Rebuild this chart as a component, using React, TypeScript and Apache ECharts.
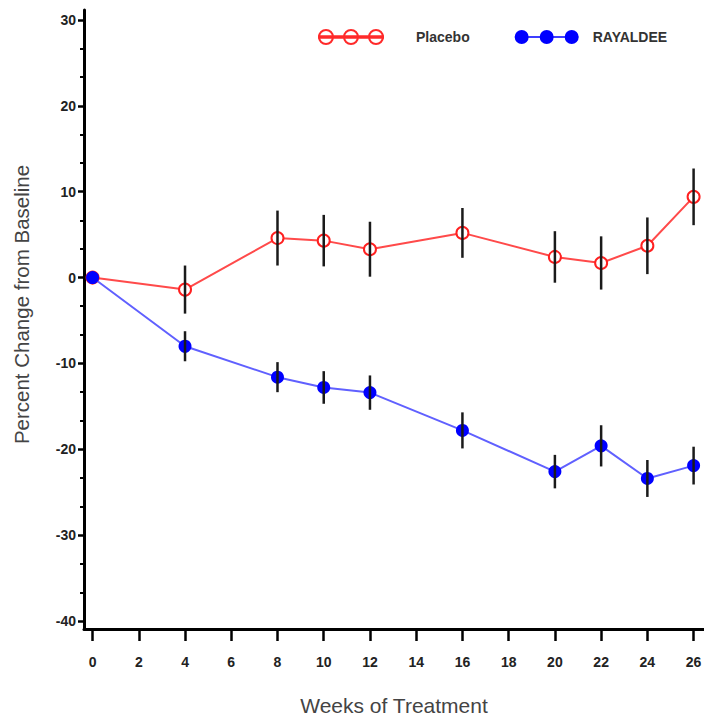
import React, { useEffect, useRef } from "react";
import * as echarts from "echarts";

const weeks = [0, 4, 8, 10, 12, 16, 20, 22, 24, 26];
const placeboMean = [0, -1.4, 4.6, 4.3, 3.3, 5.2, 2.4, 1.7, 3.7, 9.4];
const placeboSE = [0, 2.8, 3.2, 3.0, 3.2, 2.9, 3.0, 3.1, 3.3, 3.3];
const rayaldeeMean = [0, -8.0, -11.6, -12.8, -13.4, -17.8, -22.6, -19.6, -23.4, -21.9];
const rayaldeeSE = [0, 1.75, 1.75, 1.9, 2.0, 2.1, 1.95, 2.4, 2.15, 2.2];
const xTicks = [0, 2, 4, 6, 8, 10, 12, 14, 16, 18, 20, 22, 24, 26];
const yTicks = [-40, -30, -20, -10, 0, 10, 20, 30];
const yMinorTicks = [-36.667, -33.333, -26.667, -23.333, -16.667, -13.333, -6.667, -3.333, 3.333, 6.667, 13.333, 16.667, 23.333, 26.667];

const LEGEND_ICON =
  "path://M0,6.25 L64,6.25 L64,7.75 L0,7.75 Z M0,7 A7,7 0 1,1 14,7 A7,7 0 1,1 0,7 Z M25,7 A7,7 0 1,1 39,7 A7,7 0 1,1 25,7 Z M50,7 A7,7 0 1,1 64,7 A7,7 0 1,1 50,7 Z";

export default function App() {
  const ref = useRef<HTMLDivElement>(null);
  useEffect(() => {
    if (!ref.current) return;
    const chart = echarts.init(ref.current, null, { renderer: "svg" });
    const errData = (mean: number[], se: number[]) =>
      weeks
        .map((w, i) => [w, mean[i] - se[i], mean[i] + se[i]])
        .filter((_, i) => se[i] > 0);
    const renderErr = (params: any, api: any) => {
      const lo = api.coord([api.value(0), api.value(1)]);
      const hi = api.coord([api.value(0), api.value(2)]);
      return {
        type: "line",
        shape: { x1: lo[0], y1: lo[1], x2: hi[0], y2: hi[1] },
        style: { stroke: "#1a1a1a", lineWidth: 2.5 },
      };
    };
    const yMin = -40.93;
    const yMax = 31.16;
    chart.setOption({
      animation: false,
      backgroundColor: "#ffffff",
      grid: { left: 84, right: 0, top: 10, bottom: 93, outerBoundsMode: "none" },
      legend: {
        left: 313,
        top: 24,
        itemWidth: 64,
        itemHeight: 14,
        itemGap: 45,
        textStyle: { fontFamily: "Liberation Sans, Arial", fontWeight: "bold", fontSize: 14, color: "#333" },
        data: [
          {
            name: "Placebo",
            icon: LEGEND_ICON,
            itemStyle: { color: "#ffffff", borderColor: "#ff2a2a", borderWidth: 2 },
            textStyle: { padding: [0, 0, 0, 28] },
          },
          {
            name: "RAYALDEE",
            icon: LEGEND_ICON,
            itemStyle: { color: "#0000ff", borderWidth: 0 },
            textStyle: { padding: [0, 0, 0, 9] },
          },
        ],
      },
      xAxis: {
        type: "value",
        min: -0.37,
        max: 26.45,
        name: "Weeks of Treatment",
        nameLocation: "middle",
        nameGap: 66,
        nameTextStyle: { fontFamily: "Liberation Sans, Arial", fontSize: 21, color: "#444" },
        splitLine: { show: false },
        axisLine: { show: true, onZero: false, lineStyle: { color: "#000", width: 3 } },
        axisTick: { show: true, length: 12, lineStyle: { color: "#000", width: 2.5 }, customValues: xTicks },
        axisLabel: {
          customValues: xTicks,
          margin: 26,
          fontFamily: "Liberation Sans, Arial",
          fontWeight: "bold",
          fontSize: 14,
          color: "#222",
        },
      },
      yAxis: [
        {
          type: "value",
          min: yMin,
          max: yMax,
          name: "Percent Change from Baseline",
          nameLocation: "middle",
          nameGap: 52,
          nameTextStyle: {
            fontFamily: "Liberation Sans, Arial",
            fontSize: 20.5,
            color: "#444",
            padding: [0, 0, 0, 30],
          },
          splitLine: { show: false },
          axisLine: { show: true, onZero: false, lineStyle: { color: "#000", width: 3 } },
          axisTick: { show: true, length: 6, lineStyle: { color: "#000", width: 2.5 }, customValues: yTicks },
          axisLabel: {
            customValues: yTicks,
            margin: 8,
            fontFamily: "Liberation Sans, Arial",
            fontWeight: "bold",
            fontSize: 14,
            color: "#222",
          },
        },
        {
          type: "value",
          min: yMin,
          max: yMax,
          position: "left",
          offset: 0,
          splitLine: { show: false },
          axisLine: { show: false, onZero: false },
          axisLabel: { show: false },
          axisTick: { show: true, length: 4, lineStyle: { color: "#000", width: 2 }, customValues: yMinorTicks },
        },
      ],
      series: [
        {
          name: "Placebo",
          type: "line",
          data: weeks.map((w, i) => [w, placeboMean[i]]),
          symbol: "emptyCircle",
          symbolSize: 12,
          lineStyle: { color: "#ff4a4a", width: 2 },
          itemStyle: { color: "#ff2020", borderWidth: 2 },
          z: 2,
        },
        {
          name: "RAYALDEE",
          type: "line",
          data: weeks.map((w, i) => [w, rayaldeeMean[i]]),
          symbol: "circle",
          symbolSize: 13,
          lineStyle: { color: "#6060ff", width: 2 },
          itemStyle: { color: "#0000ff" },
          z: 3,
        },
        {
          name: "Placebo SE",
          type: "custom",
          data: errData(placeboMean, placeboSE),
          encode: { x: 0, y: [1, 2] },
          renderItem: renderErr,
          z: 5,
        },
        {
          name: "RAYALDEE SE",
          type: "custom",
          data: errData(rayaldeeMean, rayaldeeSE),
          encode: { x: 0, y: [1, 2] },
          renderItem: renderErr,
          z: 5,
        },
      ],
    });
    return () => chart.dispose();
  }, []);
  return (
    <div
      ref={ref}
      style={{ position: "fixed", left: 0, top: 0, width: 704, height: 722, background: "#fff" }}
    />
  );
}
